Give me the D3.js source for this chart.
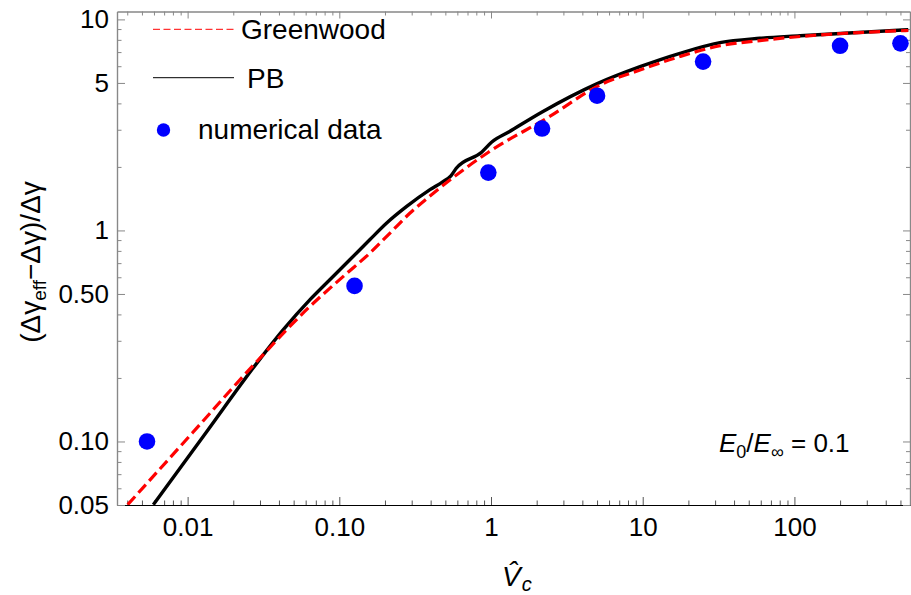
<!DOCTYPE html>
<html>
<head>
<meta charset="utf-8">
<script src="https://cdn.jsdelivr.net/npm/d3@7"></script>
<style>
  body { margin: 0; background: #fff; }
  svg { font-family: "Liberation Sans", Arial, sans-serif; }
</style>
</head>
<body>
<div id="vis"></div>
<script>
// values
const pbX = [0.00594, 0.01306, 0.02868, 0.04275, 0.0641, 0.0869, 0.1177, 0.1593, 0.2053, 0.278, 0.396, 0.48, 0.546, 0.59, 0.867, 1.012, 1.308, 2.186, 4.975, 9.6, 17.6, 32.3, 59.3, 109, 563];
const pbY = [0.0502, 0.1088, 0.2358, 0.3388, 0.4698, 0.5855, 0.7278, 0.9055, 1.084, 1.299, 1.56, 1.70, 1.82, 1.97, 2.348, 2.623, 2.928, 3.653, 4.95, 5.97, 6.91, 7.76, 8.14, 8.37, 8.93];

const gwX = [0.00403, 0.01074, 0.02868, 0.0641, 0.1063, 0.1593, 0.2159, 0.2925, 0.396, 0.961, 2.423, 5.23, 9.6, 17.6, 32.3, 59.3, 109, 563];
const gwY = [0.0502, 0.1097, 0.240, 0.4368, 0.6058, 0.782, 0.972, 1.209, 1.456, 2.348, 3.46, 4.89, 5.76, 6.67, 7.5, 7.94, 8.3, 8.86];

const numX = [0.0054, 0.126, 0.96, 2.17, 5.0, 25, 200, 500];
const numY = [0.1, 0.546, 1.88, 3.04, 4.35, 6.31, 7.5, 7.7];

const xTicks = [0.01, 0.1, 1, 10, 100];
const xTickLabels = ['0.01', '0.10', '1', '10', '100'];
const yTicks = [0.05, 0.1, 0.5, 1, 5, 10];
const yTickLabels = ['0.05', '0.10', '0.50', '1', '5', '10'];

const W = 911, H = 595;
const margin = { top: 11.5, right: 1, bottom: 90, left: 117 };
const width = W - margin.left - margin.right;
const height = H - margin.top - margin.bottom;

const svg = d3.select('#vis').append('svg')
  .attr('width', W).attr('height', H);

const $plot = svg.append('g')
  .attr('transform', `translate(${margin.left}, ${margin.top})`);

const x = d3.scaleLog().domain([0.003424, 578]).range([0, width]);
const y = d3.scaleLog().domain([0.05, 10.9]).range([height, 0]);

// minor ticks at 2..9 x decade
function minors(scale, majors) {
  const [a, b] = scale.domain();
  const out = [];
  for (let e = -4; e <= 3; e++) {
    for (let m = 1; m <= 9; m++) {
      const v = m * Math.pow(10, e);
      if (v >= a && v <= b && !majors.some(t => Math.abs(t - v) / v < 1e-6)) out.push(v);
    }
  }
  return out;
}
const xMinor = minors(x, xTicks);
const yMinor = minors(y, yTicks);

function styleAxis(g, col) {
  g.select('.domain').attr('stroke', col).attr('stroke-width', 1.2);
  g.selectAll('.tick line').attr('stroke', col).attr('stroke-width', 1);
  g.selectAll('.tick text').attr('fill', '#000').attr('font-size', 26);
}

// minor ticks
const xb = $plot.append('g').attr('transform', `translate(0, ${height})`)
  .call(d3.axisBottom(x).tickValues(xMinor).tickSizeInner(-4.5).tickSizeOuter(0).tickFormat(''));
styleAxis(xb, '#555');
const xt = $plot.append('g')
  .call(d3.axisTop(x).tickValues(xMinor).tickSizeInner(-4).tickSizeOuter(0).tickFormat(''));
styleAxis(xt, '#888');
const yl = $plot.append('g')
  .call(d3.axisLeft(y).tickValues(yMinor).tickSizeInner(-4.5).tickSizeOuter(0).tickFormat(''));
styleAxis(yl, '#888');
const yr = $plot.append('g').attr('transform', `translate(${width}, 0)`)
  .call(d3.axisRight(y).tickValues(yMinor).tickSizeInner(-4).tickSizeOuter(0).tickFormat(''));
styleAxis(yr, '#888');

// major ticks
const xAxis = $plot.append('g').attr('transform', `translate(0, ${height})`)
  .call(d3.axisBottom(x).tickValues(xTicks).tickSizeInner(-8).tickSizeOuter(0).tickPadding(12.5)
    .tickFormat((d, i) => xTickLabels[i]));
styleAxis(xAxis, '#000');
xAxis.selectAll('.tick line').attr('stroke', '#555');

const xTop = $plot.append('g')
  .call(d3.axisTop(x).tickValues(xTicks).tickSizeInner(-7).tickSizeOuter(0).tickFormat(''));
styleAxis(xTop, '#888');

const yAxis = $plot.append('g')
  .call(d3.axisLeft(y).tickValues(yTicks).tickSizeInner(-8).tickSizeOuter(0).tickPadding(8)
    .tickFormat((d, i) => yTickLabels[i]));
styleAxis(yAxis, '#888');

const yRight = $plot.append('g').attr('transform', `translate(${width}, 0)`)
  .call(d3.axisRight(y).tickValues(yTicks).tickSizeInner(-7).tickSizeOuter(0).tickFormat(''));
styleAxis(yRight, '#888');

// clip
$plot.append('clipPath').attr('id', 'clip')
  .append('rect').attr('width', width).attr('height', height);

const lines = $plot.append('g').attr('clip-path', 'url(#clip)');

const line = d3.line()
  .x(d => x(d[0]))
  .y(d => y(d[1]))
  .curve(d3.curveMonotoneX);

lines.append('path')
  .datum(pbX.map((v, i) => [v, pbY[i]]))
  .attr('d', line)
  .attr('fill', 'none')
  .attr('stroke', '#000')
  .attr('stroke-width', 3.4);

lines.append('path')
  .datum(gwX.map((v, i) => [v, gwY[i]]))
  .attr('d', line)
  .attr('fill', 'none')
  .attr('stroke', '#ff0000')
  .attr('stroke-width', 3.2)
  .attr('stroke-dasharray', '11,5');

$plot.append('g').selectAll('circle')
  .data(numX.map((v, i) => [v, numY[i]]))
  .enter().append('circle')
  .attr('cx', d => x(d[0]))
  .attr('cy', d => y(d[1]))
  .attr('r', 8.3)
  .attr('fill', '#0000ff');

// legend
const leg = svg.append('g');
leg.append('line').attr('x1', 153).attr('x2', 234).attr('y1', 29.3).attr('y2', 29.3)
  .attr('stroke', '#ff0000').attr('stroke-width', 1).attr('stroke-dasharray', '7,3.5');
leg.append('text').attr('x', 241).attr('y', 38.5).attr('font-size', 28).text('Greenwood');
leg.append('line').attr('x1', 153).attr('x2', 234).attr('y1', 77.7).attr('y2', 77.7)
  .attr('stroke', '#000').attr('stroke-width', 1);
leg.append('text').attr('x', 247).attr('y', 87.5).attr('font-size', 28).text('PB');
leg.append('circle').attr('cx', 163.5).attr('cy', 130).attr('r', 6.7).attr('fill', '#0000ff');
leg.append('text').attr('x', 198).attr('y', 138.5).attr('font-size', 28).text('numerical data');

// annotation
const ann = svg.append('text').attr('x', 719).attr('y', 452).attr('font-size', 26);
ann.append('tspan').attr('font-style', 'italic').text('E');
ann.append('tspan').attr('font-size', 18).attr('dy', 6).text('0');
ann.append('tspan').attr('dy', -6).text('/');
ann.append('tspan').attr('font-style', 'italic').text('E');
ann.append('tspan').attr('font-size', 18).attr('dy', 6).text('\u221E');
ann.append('tspan').attr('dy', -6).text(' = 0.1');

// x label: V with combining hat, subscript c
const xl = svg.append('text').attr('x', 502).attr('y', 586).attr('font-size', 28)
  .attr('font-style', 'italic');
xl.append('tspan').text('V\u0302');
xl.append('tspan').attr('dx', 1).attr('dy', 5).attr('font-size', 20).text('c');

// y label
const yl2 = svg.append('text')
  .attr('transform', 'translate(40, 262) rotate(-90)')
  .attr('text-anchor', 'middle')
  .attr('font-size', 28);
yl2.append('tspan').text('(\u0394\u03B3');
yl2.append('tspan').attr('font-size', 19).attr('dy', 6).text('eff');
yl2.append('tspan').attr('dy', -6).text('\u2212\u0394\u03B3)/\u0394\u03B3');
</script>
</body>
</html>
